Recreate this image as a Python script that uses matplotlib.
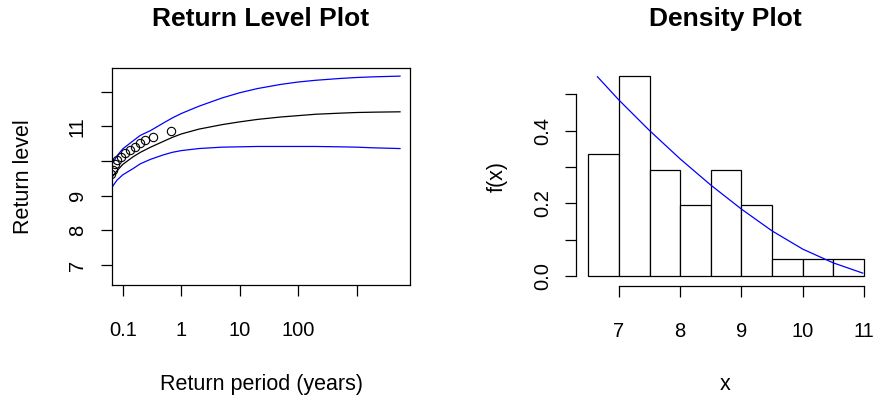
import matplotlib
matplotlib.use('agg')
import matplotlib.pyplot as plt

plt.rcParams['font.family'] = ['Liberation Sans', 'DejaVu Sans']

# return level curves (return period in years -> level)
rl_period = [0.06, 0.08, 0.1, 0.15, 0.2, 0.3, 0.5, 0.7, 1, 2, 5, 10, 20, 50,
             100, 200, 500, 1000, 2000, 5500]
rl_fit = [9.45, 9.72, 9.90, 10.12, 10.25, 10.40, 10.57, 10.68, 10.78, 10.92,
          11.05, 11.13, 11.20, 11.27, 11.31, 11.35, 11.38, 11.40, 11.41, 11.42]
rl_upper = [9.80, 10.15, 10.35, 10.58, 10.74, 10.88, 11.10, 11.24, 11.37, 11.58,
            11.82, 11.97, 12.09, 12.21, 12.28, 12.33, 12.38, 12.41, 12.43, 12.45]
rl_lower = [9.15, 9.45, 9.60, 9.78, 9.92, 10.05, 10.18, 10.25, 10.30, 10.36,
            10.40, 10.41, 10.42, 10.42, 10.42, 10.42, 10.41, 10.40, 10.38, 10.36]

# empirical points
emp_period = [0.064, 0.068, 0.073, 0.081, 0.092, 0.108, 0.132, 0.160, 0.195,
              0.238, 0.330, 0.66]
emp_level = [9.62, 9.74, 9.91, 10.03, 10.12, 10.22, 10.32, 10.41, 10.51,
             10.61, 10.70, 10.88]

# histogram (density scale)
hist_edges = [6.5, 7.0, 7.5, 8.0, 8.5, 9.0, 9.5, 10.0, 10.5, 11.0]
hist_density = [0.336, 0.551, 0.292, 0.194, 0.292, 0.194, 0.046, 0.046, 0.046]

# fitted density
dens_x = [6.65, 7.0, 7.5, 8.0, 8.5, 9.0, 9.5, 10.0, 10.5, 10.98]
dens_y = [0.548, 0.484, 0.400, 0.322, 0.250, 0.184, 0.124, 0.074, 0.036, 0.008]

W, H = 877.0, 399.0
fig = plt.figure(figsize=(W / 100, H / 100), dpi=100)
ax1 = fig.add_axes([112 / W, 1 - 285 / H, 298 / W, 217 / H])
ax2 = fig.add_axes([576 / W, 1 - 286 / H, 299 / W, 218 / H])

lw = 0.9
tick_kw = dict(length=8, width=lw, direction='out', labelsize=14.5)
label_size = 15.5
title_size = 19

# ---- return level plot
ax1.plot(rl_period, rl_fit, color='black', lw=lw)
ax1.plot(rl_period, rl_upper, color='blue', lw=lw)
ax1.plot(rl_period, rl_lower, color='blue', lw=lw)
ax1.plot(emp_period, emp_level, 'o', mfc='none', mec='black', ms=6, mew=0.8)
ax1.set_xscale('log')
ax1.set_xlim(10 ** -1.183, 10 ** 3.911)
ax1.set_ylim(6.423, 12.684)
ax1.set_xticks([0.1, 1, 10, 100, 1000])
ax1.set_xticklabels(['0.1', '1', '10', '100', ''])
ax1.minorticks_off()
ax1.set_yticks([7, 8, 9, 10, 11, 12])
ax1.set_yticklabels(['7', '8', '9', '', '11', ''], rotation=90, va='center')
ax1.tick_params(axis='x', pad=18, **tick_kw)
ax1.tick_params(axis='y', pad=10, **tick_kw)
for s in ax1.spines.values():
    s.set_linewidth(lw)
ax1.set_title('Return Level Plot', fontsize=title_size, fontweight='bold', pad=30)
ax1.set_xlabel('Return period (years)', fontsize=label_size)
ax1.xaxis.label.set_va('baseline')
ax1.xaxis.set_label_coords(0.5, (285 - 390) / 217)
ax1.set_ylabel('Return level', fontsize=label_size)
ax1.yaxis.label.set_va('center')
ax1.yaxis.set_label_coords((24 - 112) / 298, 0.5)

# ---- density plot
widths = [hist_edges[i + 1] - hist_edges[i] for i in range(len(hist_density))]
ax2.bar(hist_edges[:-1], hist_density, width=widths, align='edge',
        color='white', edgecolor='black', lw=lw)
ax2.plot(dens_x, dens_y, color='blue', lw=lw)
ax2.set_xlim(6.30, 11.18)
ax2.set_ylim(-0.0275, 0.572)
ax2.set_xticks([7, 8, 9, 10, 11])
ax2.set_yticks([0.0, 0.1, 0.2, 0.3, 0.4, 0.5])
ax2.set_yticklabels(['0.0', '', '0.2', '', '0.4', ''], rotation=90, va='center')
ax2.spines['top'].set_visible(False)
ax2.spines['right'].set_visible(False)
ax2.spines['bottom'].set_bounds(7, 11)
ax2.spines['left'].set_bounds(0, 0.5)
for s in ax2.spines.values():
    s.set_linewidth(lw)
ax2.tick_params(axis='x', pad=18, **tick_kw)
ax2.tick_params(axis='y', pad=9, **tick_kw)
ax2.set_title('Density Plot', fontsize=title_size, fontweight='bold', pad=30)
ax2.set_xlabel('x', fontsize=label_size)
ax2.xaxis.label.set_va('baseline')
ax2.xaxis.set_label_coords(0.5, (286 - 390) / 218)
ax2.set_ylabel('f(x)', fontsize=label_size)
ax2.yaxis.label.set_va('center')
ax2.yaxis.set_label_coords((497 - 576) / 299, 0.5)

fig.savefig('out.png', dpi=100)
